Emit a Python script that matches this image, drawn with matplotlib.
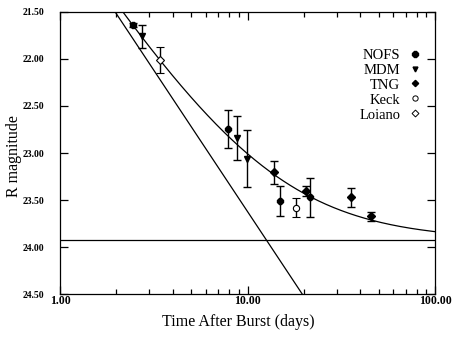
import numpy as np
import matplotlib
matplotlib.use("Agg")
import matplotlib.pyplot as plt
from matplotlib.ticker import FixedLocator, FixedFormatter, LogLocator, NullFormatter
from matplotlib.lines import Line2D

plt.rcParams['font.family'] = ['Liberation Serif', 'DejaVu Serif']

# ---- data ----
nofs_t = [2.46, 7.9, 14.9, 21.5]
nofs_m = [21.64, 22.745, 23.505, 23.47]
nofs_e = [0.025, 0.20, 0.16, 0.21]

mdm_t = [2.73, 8.83, 9.9]
mdm_m = [21.76, 22.84, 23.06]
mdm_e = [0.12, 0.23, 0.30]

tng_t = [13.9, 20.5, 35.8, 45.6]
tng_m = [23.205, 23.40, 23.47, 23.67]
tng_e = [0.125, 0.055, 0.10, 0.05]

keck_t = [18.1]
keck_m = [23.58]
keck_e = [0.10]

loiano_t = [3.42]
loiano_m = [22.01]
loiano_e = [0.14]

# model parameters: power-law decay + constant host
m10 = 23.62      # power-law magnitude at t = 10 d
alpha = 1.2      # decay index
m_host = 23.92   # host galaxy level

xticks = [1, 10, 100]
xticklabels = ["1.00", "10.00", "100.00"]
yticks = [21.5, 22.0, 22.5, 23.0, 23.5, 24.0, 24.5]
yticklabels = ["21.50", "22.00", "22.50", "23.00", "23.50", "24.00", "24.50"]

fig = plt.figure(figsize=(4.6, 3.39), dpi=100)
ax = fig.add_axes([0.1304, 0.1313, 0.8153, 0.8342])

t = np.logspace(0, 2, 400)
m_pl = m10 + 2.5 * alpha * (np.log10(t) - 1)
m_tot = -2.5 * np.log10(10 ** (-0.4 * m_pl) + 10 ** (-0.4 * m_host))
ax.plot(t, m_pl, color='black', lw=0.9)
ax.plot(t, m_tot, color='black', lw=0.9)
ax.axhline(m_host, color='black', lw=0.9)

ekw = dict(ecolor='black', elinewidth=1.0, capsize=3, capthick=1.0, linestyle='none')
ax.errorbar(nofs_t, nofs_m, yerr=nofs_e, marker='8', ms=5.2, mfc='black', mec='black', **ekw)
ax.errorbar(mdm_t, mdm_m, yerr=mdm_e, marker='v', ms=4.5, mfc='black', mec='black', **ekw)
ax.errorbar(tng_t, tng_m, yerr=tng_e, marker='D', ms=4.0, mfc='black', mec='black', **ekw)
ax.errorbar(keck_t, keck_m, yerr=keck_e, marker='o', ms=4.5, mfc='white', mec='black', mew=0.8, **ekw)
ax.errorbar(loiano_t, loiano_m, yerr=loiano_e, marker='D', ms=4.0, mfc='white', mec='black', mew=0.8, **ekw)

ax.set_xscale('log')
ax.set_xlim(1, 100)
ax.set_ylim(24.5, 21.5)
ax.xaxis.set_major_locator(FixedLocator(xticks))
ax.xaxis.set_major_formatter(FixedFormatter(xticklabels))
ax.xaxis.set_minor_locator(LogLocator(base=10, subs=np.arange(2, 10)))
ax.xaxis.set_minor_formatter(NullFormatter())
ax.yaxis.set_major_locator(FixedLocator(yticks))
ax.yaxis.set_major_formatter(FixedFormatter(yticklabels))
ax.tick_params(which='both', direction='in', top=True, right=True, width=0.9)
ax.tick_params(which='major', length=6)
ax.tick_params(which='minor', length=3.5)
ax.tick_params(axis='x', labelsize=8.5, pad=0.5)
ax.tick_params(axis='y', labelsize=7.0, pad=11.5)
for lab in ax.get_xticklabels() + ax.get_yticklabels():
    lab.set_fontweight('bold')
for s in ax.spines.values():
    s.set_linewidth(0.9)

ax.set_xlabel('Time After Burst (days)', fontsize=11.5)
ax.set_ylabel('R magnitude', fontsize=11.5)
ax.xaxis.label.set_va('center')
ax.yaxis.label.set_va('center')
ax.xaxis.set_label_coords(0.475, -0.097)
ax.yaxis.set_label_coords(-0.123, 0.49)

# legend: markers to the right of labels
handles = [
    Line2D([], [], marker='8', ms=4.5, mfc='black', mec='black', ls='none'),
    Line2D([], [], marker='v', ms=3.5, mfc='black', mec='black', ls='none'),
    Line2D([], [], marker='D', ms=3.2, mfc='black', mec='black', ls='none'),
    Line2D([], [], marker='o', ms=3.8, mfc='white', mec='black', mew=0.7, ls='none'),
    Line2D([], [], marker='D', ms=3.5, mfc='white', mec='black', mew=0.7, ls='none'),
]
labels = ['NOFS', 'MDM', 'TNG', 'Keck', 'Loiano']
ax.legend(handles, labels, loc='upper right', bbox_to_anchor=(0.962, 0.87), frameon=False,
          markerfirst=False, fontsize=10.5, handlelength=0.8, handletextpad=0.6,
          labelspacing=0.12, borderaxespad=0, borderpad=0)

fig.savefig('out.png', dpi=100)
